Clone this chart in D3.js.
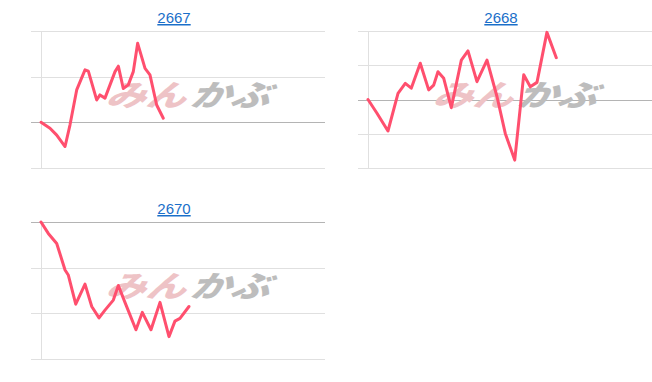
<!DOCTYPE html>
<html>
<head>
<meta charset="utf-8">
<script src="https://cdn.jsdelivr.net/npm/d3@7"></script>
<style>
  body { margin: 0; background: #fff; }
  svg { display: block; }
</style>
</head>
<body>
<svg id="chart" width="652" height="382"></svg>
<script>
// codes shown as titles
let codes = ['2667', '2668', '2670'];

// minutes since open (x) and % change from start (y)
let t2667 = [0, 9.5, 16.6, 25.4, 30.6, 37.7, 46.5, 50, 58.8, 62.3, 67.6, 78.2, 81.7, 86.9, 92.2, 97.5, 102.1, 109.9, 115.1, 122.2, 129.2];
let v2667 = [0, -0.13, -0.28, -0.53, -0.06, 0.71, 1.15, 1.12, 0.49, 0.60, 0.53, 1.11, 1.23, 0.74, 0.82, 1.11, 1.73, 1.18, 1.04, 0.38, 0.09];

let t2668 = [0, 9.5, 21.1, 31.7, 39.4, 45.7, 55.2, 64.1, 69.4, 73.9, 80, 88, 98.6, 105.6, 115.1, 125.7, 136.3, 145, 155, 164.5, 171.4, 178.5, 189, 198.9];
let v2668 = [0, -0.40, -0.92, 0.18, 0.47, 0.33, 1.06, 0.28, 0.42, 0.81, 0.62, -0.24, 1.15, 1.42, 0.52, 1.15, 0.08, -0.99, -1.77, 0.72, 0.37, 0.50, 1.96, 1.22];

let t2670 = [0, 7.7, 16.6, 25.4, 28.8, 36.7, 46.5, 53.6, 61.3, 67.6, 76.4, 81.7, 88.7, 100.3, 107, 116.2, 125.7, 135.2, 141.5, 146.8, 156.3];
let v2670 = [0, -0.25, -0.47, -1.05, -1.16, -1.80, -1.36, -1.85, -2.10, -1.93, -1.71, -1.39, -1.76, -2.36, -1.98, -2.36, -1.76, -2.51, -2.17, -2.11, -1.85];

// y ticks for each panel
let ticks2667 = [-1, 0, 1, 2];
let ticks2668 = [-2, -1, 0, 1, 2];
let ticks2670 = [-3, -2, -1, 0];

let dayMinutes = 300;

let panels = [
  { code: codes[0], t: t2667, v: v2667, ticks: ticks2667, left: 41, top: 31 },
  { code: codes[1], t: t2668, v: v2668, ticks: ticks2668, left: 368, top: 31 },
  { code: codes[2], t: t2670, v: v2670, ticks: ticks2670, left: 41, top: 222 }
];

let width = 284, height = 137;
let svg = d3.select('#chart');

panels.forEach(p => {
  let data = p.t.map((d, i) => ({ t: d, v: p.v[i] }));
  let g = svg.append('g').attr('transform', `translate(${p.left}, ${p.top})`);

  let x = d3.scaleLinear().domain([0, dayMinutes]).range([0, width]);
  let y = d3.scaleLinear().domain(d3.extent(p.ticks)).range([height, 0]);

  // grid lines
  g.append('g')
    .call(d3.axisLeft(y).tickValues(p.ticks).tickSize(-width - 10).tickFormat(''))
    .attr('transform', 'translate(-10, 0)')
    .call(a => a.select('.domain').remove())
    .selectAll('.tick line')
    .attr('stroke', d => d === 0 ? '#b4b4b4' : '#e0e0e0')
    .attr('shape-rendering', 'crispEdges');

  // vertical axis line
  g.append('line')
    .attr('x1', 0.5).attr('x2', 0.5)
    .attr('y1', 0).attr('y2', height)
    .attr('stroke', '#e0e0e0');

  // watermark
  let wm = g.append('g')
    .attr('transform', `translate(${width / 2 + 4}, ${height / 2 + 6}) scale(1.08, 0.8) skewX(-20)`)
    .attr('font-family', '"Noto Sans CJK JP", sans-serif')
    .attr('font-weight', 900)
    .attr('font-size', 37);
  wm.append('text').attr('x', -2).attr('text-anchor', 'end')
    .attr('fill', '#eec3c6').text('みん');
  wm.append('text').attr('x', 2).attr('text-anchor', 'start')
    .attr('fill', '#bdbdbd').text('かぶ');

  let line = d3.line()
    .x(d => x(d.t))
    .y(d => y(d.v));

  g.append('path')
    .datum(data)
    .attr('fill', 'none')
    .attr('stroke', '#ff4f6e')
    .attr('stroke-width', 3)
    .attr('stroke-linejoin', 'round')
    .attr('stroke-linecap', 'round')
    .attr('d', line);

  // title link
  g.append('text')
    .attr('x', (width - 10) / 2 - 4)
    .attr('y', -8)
    .attr('text-anchor', 'middle')
    .attr('font-family', '"Liberation Sans", Arial, sans-serif')
    .attr('font-size', 15)
    .attr('fill', '#1a6fc9')
    .attr('text-decoration', 'underline')
    .text(p.code);
});
</script>
</body>
</html>
